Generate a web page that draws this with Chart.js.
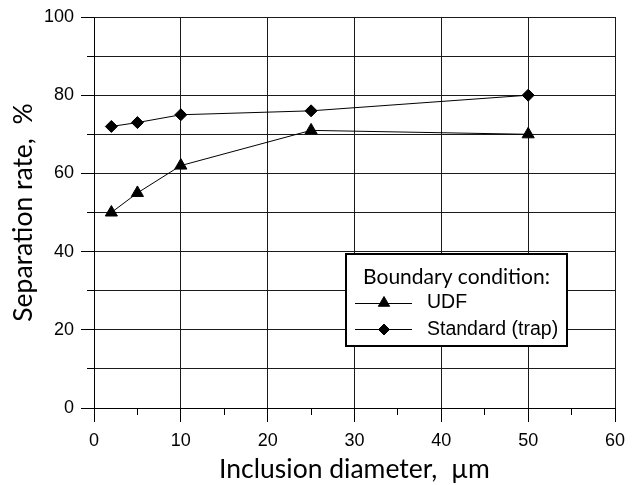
<!DOCTYPE html>
<html>
<head>
<meta charset="utf-8">
<script src="https://cdn.jsdelivr.net/npm/chart.js@4.4.1/dist/chart.umd.min.js"></script>
<style>
  html, body { margin: 0; padding: 0; background: #fff; }
  #wrap { width: 640px; height: 485px; position: relative; }
</style>
</head>
<body>
<div id="wrap"><canvas id="separation-rate-chart"></canvas></div>
<script>
// values
const diameters = [2, 5, 10, 25, 50];
const udfRates = [50, 55, 62, 71, 70];
const standardRates = [72, 73, 75, 76, 80];
const seriesLabels = ["UDF", "Standard (trap)"];
const seriesShapes = ["triangle", "rectRot"];
const legendTitle = "Boundary condition:";
const xTitle = "Inclusion diameter,  \u00b5m";
const yTitle = "Separation rate,  %";
const yLabelStep = 20;

const TICK_FONT = "Arial, 'Liberation Sans', sans-serif";
const TITLE_FONT = "Lato, 'Open Sans', sans-serif";

function toPoints(xs, ys) {
  return xs.map((x, i) => ({ x: x, y: ys[i] }));
}

function align(p) {
  return Math.round(p - 0.5) + 0.5;
}

// outside tick marks: long at labelled values, short in between
const tickMarks = {
  id: "tickMarks",
  afterDraw(chart) {
    const ctx = chart.ctx;
    const xs = chart.scales.x;
    const ys = chart.scales.y;
    ctx.save();
    ctx.strokeStyle = "#000";
    ctx.lineWidth = 1;
    ctx.beginPath();
    for (let v = xs.min; v <= xs.max; v += 5) {
      const px = align(xs.getPixelForValue(v));
      const len = v % 10 === 0 ? 14 : 7;
      ctx.moveTo(px, ys.bottom);
      ctx.lineTo(px, ys.bottom + len);
    }
    for (let v = ys.min; v <= ys.max; v += 10) {
      const py = align(ys.getPixelForValue(v));
      const len = v % yLabelStep === 0 ? 13 : 7;
      ctx.moveTo(xs.left, py);
      ctx.lineTo(xs.left - len, py);
    }
    ctx.stroke();
    ctx.restore();
  }
};

// boxed legend inside the plot, lower right
const boxLegend = {
  id: "boxLegend",
  afterDraw(chart) {
    const ctx = chart.ctx;
    const area = chart.chartArea;
    const w = 221, h = 92;
    const left = area.right - 48 - w;
    const top = area.bottom - 62 - h;

    ctx.save();
    ctx.fillStyle = "#fff";
    ctx.fillRect(left, top, w, h);
    ctx.strokeStyle = "#000";
    ctx.lineWidth = 2;
    ctx.strokeRect(left, top, w, h);

    ctx.fillStyle = "#000";
    ctx.textBaseline = "middle";
    ctx.textAlign = "center";
    ctx.font = "21px " + TITLE_FONT;
    ctx.fillText(legendTitle, left + w / 2, top + 23);

    ctx.textAlign = "left";
    ctx.font = "19.5px " + TICK_FONT;
    chart.data.datasets.forEach((ds, i) => {
      const cy = top + 49 + i * 26.5;
      ctx.strokeStyle = "#000";
      ctx.lineWidth = 1;
      ctx.beginPath();
      ctx.moveTo(left + 9, align(cy));
      ctx.lineTo(left + 66, align(cy));
      ctx.stroke();
      ctx.fillStyle = "#000";
      Chart.helpers.drawPoint(ctx, {
        pointStyle: ds.pointStyle,
        radius: ds.pointRadius - 0.5,
        borderWidth: 1,
        rotation: 0
      }, left + 38, cy);
      ctx.fillStyle = "#000";
      ctx.fillText(ds.label, left + 81, cy);
    });
    ctx.restore();
  }
};

new Chart(document.getElementById("separation-rate-chart"), {
  type: "scatter",
  data: {
    datasets: [
      {
        label: seriesLabels[0],
        data: toPoints(diameters, udfRates),
        showLine: true,
        borderColor: "#000",
        backgroundColor: "#000",
        borderWidth: 1,
        pointStyle: seriesShapes[0],
        pointRadius: 7,
        pointBorderWidth: 1
      },
      {
        label: seriesLabels[1],
        data: toPoints(diameters, standardRates),
        showLine: true,
        borderColor: "#000",
        backgroundColor: "#000",
        borderWidth: 1,
        pointStyle: seriesShapes[1],
        pointRadius: 6,
        pointBorderWidth: 1
      }
    ]
  },
  options: {
    responsive: true,
    maintainAspectRatio: false,
    animation: false,
    layout: {
      padding: { top: 17, right: 25, left: 0, bottom: 0 }
    },
    scales: {
      x: {
        type: "linear",
        min: 0,
        max: 60,
        ticks: {
          stepSize: 10,
          padding: 0,
          color: "#000",
          font: { family: TICK_FONT, size: 18 }
        },
        grid: {
          color: "#1a1a1a",
          lineWidth: 1,
          drawTicks: true,
          tickLength: 22,
          tickColor: "rgba(0,0,0,0)"
        },
        border: { display: true, color: "#000", width: 1 },
        title: {
          display: true,
          text: xTitle,
          color: "#000",
          font: { family: TITLE_FONT, size: 26.5 },
          padding: { top: 0, bottom: 0 }
        },
        afterFit(scale) {
          scale.height = 77;
        }
      },
      y: {
        min: 0,
        max: 100,
        ticks: {
          stepSize: 10,
          padding: 0,
          color: "#000",
          font: { family: TICK_FONT, size: 18 },
          callback: (v) => (v % yLabelStep === 0 ? String(v) : "")
        },
        grid: {
          color: "#1a1a1a",
          lineWidth: 1,
          drawTicks: true,
          tickLength: 20,
          tickColor: "rgba(0,0,0,0)"
        },
        border: { display: true, color: "#000", width: 1 },
        title: {
          display: true,
          text: yTitle,
          color: "#000",
          font: { family: TITLE_FONT, size: 26.5 },
          padding: { top: 8, bottom: 0 }
        },
        afterFit(scale) {
          scale.width = 94;
        }
      }
    },
    plugins: {
      legend: { display: false },
      tooltip: { enabled: false }
    }
  },
  plugins: [tickMarks, boxLegend]
});
</script>
</body>
</html>
